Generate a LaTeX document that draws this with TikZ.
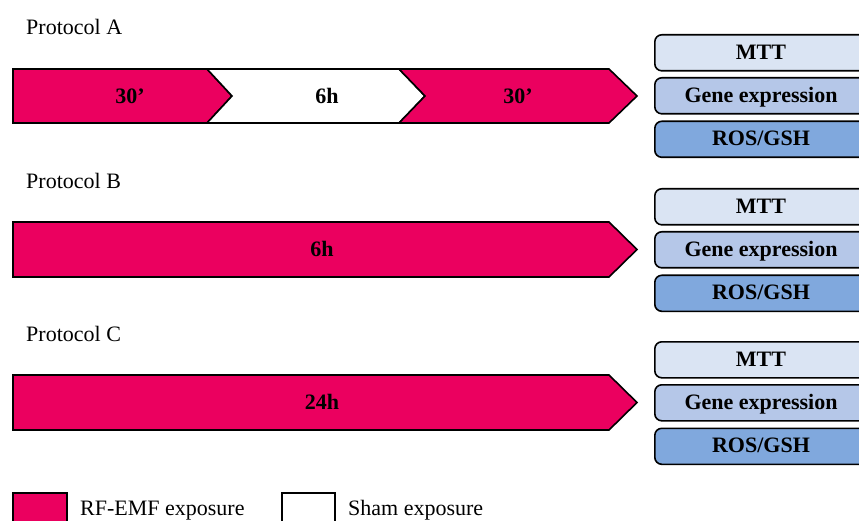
\documentclass[tikz,border=0pt]{standalone}
\usepackage{fontspec}
\setmainfont{Liberation Serif}
\definecolor{rfpink}{RGB}{235,0,95}
\definecolor{mttc}{RGB}{218,228,243}
\definecolor{genec}{RGB}{181,199,232}
\definecolor{rosc}{RGB}{128,168,221}
\tikzset{
  seg/.style={draw=black, line width=1.6pt, line join=miter},
  lab/.style={font=\fontsize{22}{24}\selectfont\bfseries, inner sep=0pt, text height=14.5pt, text depth=0pt},
  ptitle/.style={font=\fontsize{22}{24}\selectfont, anchor=west, inner sep=0pt, text height=14.5pt, text depth=0pt},
  resbox/.style={draw=black, line width=1.6pt, rounded corners=7pt, minimum width=240pt, minimum height=36pt, anchor=north west, inner sep=0pt},
  reslab/.style={font=\fontsize{22}{24}\selectfont\bfseries, inner sep=0pt, text height=14.5pt, text depth=0pt},
  legtxt/.style={font=\fontsize{22}{24}\selectfont, anchor=west, inner sep=0pt, text height=14.5pt, text depth=0pt}
}
\begin{document}
\begin{tikzpicture}[x=1pt,y=-1pt]
\useasboundingbox (0,0) rectangle (859,521);
\begin{scope}
\clip (0,0) rectangle (859,521);
% Protocol A
\node[ptitle] (tA) at (26,27) {Protocol A};
\fill[rfpink] (13,69) -- (207,69) -- (232,96) -- (207,123) -- (13,123) -- cycle;
\draw[seg] (13,69) -- (207,69) -- (232,96) -- (207,123) -- (13,123) -- cycle;
\draw[seg, fill=white] (207,69) -- (399,69) -- (425,96) -- (399,123) -- (207,123) -- (232,96) -- cycle;
\draw[seg, fill=rfpink] (399,69) -- (609,69) -- (637,96) -- (609,123) -- (399,123) -- (425,96) -- cycle;
\node[lab] (a1) at (130,96) {30’};
\node[lab] (a2) at (327,96) {6h};
\node[lab] (a3) at (518,96) {30’};
% Protocol B
\node[ptitle] (tB) at (26,181) {Protocol B};
\draw[seg, fill=rfpink] (13,222) -- (609,222) -- (637,249.5) -- (609,277) -- (13,277) -- cycle;
\node[lab] (b1) at (322,249.5) {6h};
% Protocol C
\node[ptitle] (tC) at (26,334) {Protocol C};
\draw[seg, fill=rfpink] (13,375) -- (609,375) -- (637,402.5) -- (609,430) -- (13,430) -- cycle;
\node[lab] (c1) at (322,402.5) {24h};
% Result boxes
\foreach \n/\y in {A/34, B/188, C/341} {
  \node[resbox, fill=mttc] (mtt\n) at (654,\y) {};
  \node[resbox, fill=genec] (gene\n) at (654,\y+43) {};
  \node[resbox, fill=rosc] (ros\n) at (654,\y+86.5) {};
  \node[reslab] at (761,\y+18) {MTT};
  \node[reslab] at (761,\y+61.5) {Gene expression};
  \node[reslab] at (761,\y+104.5) {ROS/GSH};
}
% Legend
\draw[seg, fill=rfpink] (13,493) rectangle (67,522);
\node[legtxt] (l1) at (80,508) {RF-EMF exposure};
\draw[seg, fill=white] (282,493) rectangle (335,522);
\node[legtxt] (l2) at (348,508) {Sham exposure};
\end{scope}
\end{tikzpicture}
\end{document}
